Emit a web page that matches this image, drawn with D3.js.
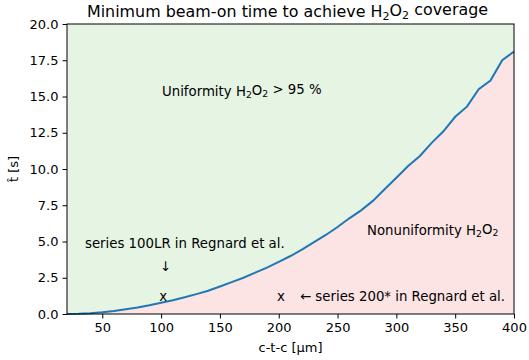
<!DOCTYPE html>
<html>
<head>
<meta charset="utf-8">
<script src="https://cdn.jsdelivr.net/npm/d3@7"></script>
<style>
html,body{margin:0;padding:0;background:#fff;}
svg{display:block;font-family:"DejaVu Sans",sans-serif;}
</style>
</head>
<body>
<svg id="chart" width="529" height="360"></svg>
<script>
// ---- data ----
const ctc = [20,30,40,50,60,70,80,90,100,110,120,130,140,150,160,170,180,190,200,210,220,230,240,250,260,270,280,290,300,310,320,330,340,350,360,370,380,390,400];
const tHat = [0.0,0.02,0.06,0.12,0.2,0.32,0.45,0.6,0.78,0.95,1.15,1.37,1.6,1.9,2.2,2.5,2.85,3.2,3.6,4.0,4.45,4.95,5.45,6.0,6.6,7.15,7.8,8.6,9.4,10.2,10.9,11.8,12.6,13.6,14.3,15.5,16.1,17.5,18.1];
const xTicks = [50,100,150,200,250,300,350,400];
const yTicks = [0,2.5,5,7.5,10,12.5,15,17.5,20];
const markers = [{x:100,y:1.2},{x:200,y:1.2}];

const svg = d3.select("#chart");
const L=67, R=514, T=24, B=314;
const x = d3.scaleLinear().domain([20,400]).range([L,R]);
const y = d3.scaleLinear().domain([0,20]).range([B,T]);
const pts = ctc.map((c,i)=>[c,tHat[i]]);

// fills
svg.append("path")
  .attr("d", d3.area().x(d=>x(d[0])).y0(y(20)).y1(d=>y(d[1]))(pts))
  .attr("fill","#e6f4e4");
svg.append("path")
  .attr("d", d3.area().x(d=>x(d[0])).y0(y(0)).y1(d=>y(d[1]))(pts))
  .attr("fill","#fce4e4");

// line
svg.append("path")
  .attr("d", d3.line().x(d=>x(d[0])).y(d=>y(d[1]))(pts))
  .attr("fill","none").attr("stroke","#1f77b4").attr("stroke-width",2);

// axes
const fs = 13;
const afs = 13.3;
const xa = svg.append("g").attr("transform",`translate(0,${B})`)
  .call(d3.axisBottom(x).tickValues(xTicks).tickSize(4.5).tickPadding(4).tickFormat(d3.format("d")));
const ya = svg.append("g").attr("transform",`translate(${L},0)`)
  .call(d3.axisLeft(y).tickValues(yTicks).tickSize(4.5).tickPadding(4).tickFormat(d3.format(".1f")));
[xa,ya].forEach(g=>{
  g.select(".domain").remove();
  g.selectAll("text").attr("font-size",fs).attr("font-family","DejaVu Sans").attr("fill","#000");
  g.selectAll("line").attr("stroke","#000").attr("stroke-width",1);
});
// frame
svg.append("rect").attr("x",L).attr("y",T).attr("width",R-L).attr("height",B-T)
  .attr("fill","none").attr("stroke","#000").attr("stroke-width",1);

// helper for H2O2 text
function h2o2(sel){
  sel.append("tspan").text("H");
  sel.append("tspan").text("2").attr("font-size","0.7em").attr("dy","0.25em");
  sel.append("tspan").text("O").attr("dy","-0.25em");
  sel.append("tspan").text("2").attr("font-size","0.7em").attr("dy","0.25em");
  return sel;
}

// title
const title = svg.append("text").attr("x",(L+R)/2 - 3).attr("y",17).attr("text-anchor","middle")
  .attr("font-size",15.9).attr("fill","#000");
title.append("tspan").text("Minimum beam-on time to achieve ");
h2o2(title);
title.append("tspan").text(" coverage").attr("dy","-0.25em");

// axis labels
svg.append("text").attr("x",(L+R)/2).attr("y",352).attr("text-anchor","middle")
  .attr("font-size",fs).attr("fill","#000").text("c-t-c [μm]");
svg.append("text").attr("transform",`translate(18,${(T+B)/2}) rotate(-90)`).attr("text-anchor","middle")
  .attr("font-size",fs).attr("fill","#000").text("t\u0302 [s]");

// region annotations
const u = svg.append("text").attr("x",162).attr("y",96).attr("font-size",afs).attr("fill","#000");
u.append("tspan").text("Uniformity ");
h2o2(u);
u.append("tspan").text(" > 95 %").attr("dy","-0.25em");

const n = svg.append("text").attr("x",367).attr("y",235).attr("font-size",afs).attr("fill","#000");
n.append("tspan").text("Nonuniformity ");
h2o2(n);

// markers
svg.selectAll(".mk").data(markers).enter().append("text")
  .attr("x",d=>x(d.x)+2.2).attr("y",d=>y(d.y)).attr("dy","0.35em")
  .attr("text-anchor","middle").attr("font-size",afs).attr("fill","#000").text("x");

svg.append("text").attr("x",85).attr("y",248).attr("font-size",afs).attr("fill","#000")
  .text("series 100LR in Regnard et al.");
svg.append("text").attr("x",x(100)+4.5).attr("y",271).attr("text-anchor","middle").attr("font-size",afs).attr("fill","#000")
  .text("↓");
svg.append("text").attr("x",300).attr("y",y(1.2)).attr("dy","0.35em").attr("font-size",afs).attr("fill","#000")
  .text("← series 200* in Regnard et al.");
</script>
</body>
</html>
